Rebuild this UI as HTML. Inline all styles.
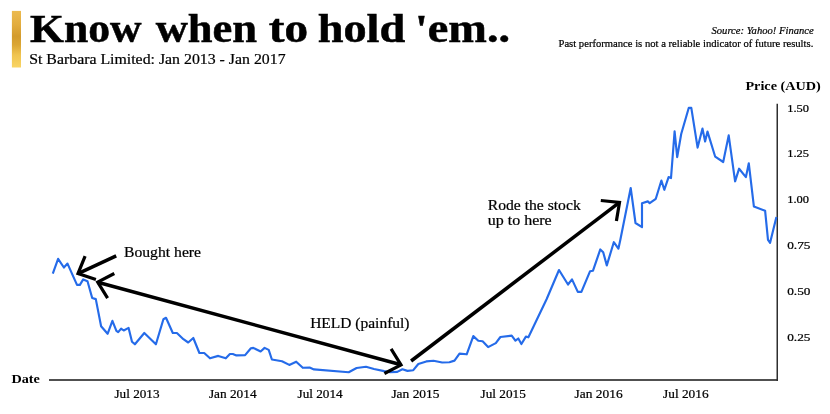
<!DOCTYPE html>
<html lang="en"><head><meta charset="utf-8"><title>Know when to hold 'em..</title>
<style>
html,body{margin:0;padding:0;background:#fff;}
svg{display:block;}
text{font-family:"Liberation Serif",serif;fill:#000;}
.r{stroke:#000;stroke-width:0.22px;}
.t{stroke:#000;stroke-width:0.5px;}
</style></head>
<body>
<svg width="830" height="414" viewBox="0 0 830 414">
<defs>
<linearGradient id="gold" x1="0" y1="0" x2="0" y2="1">
<stop offset="0" stop-color="#ecba4e"/>
<stop offset="0.25" stop-color="#e2ac3e"/>
<stop offset="0.45" stop-color="#d39b2d"/>
<stop offset="0.6" stop-color="#dba634"/>
<stop offset="0.78" stop-color="#f0c450"/>
<stop offset="1" stop-color="#f9d564"/>
</linearGradient>
</defs>
<rect x="0" y="0" width="830" height="414" fill="#fff"/>
<rect x="11.9" y="10.9" width="9.1" height="56.6" fill="url(#gold)"/>
<line x1="49" y1="379.9" x2="778" y2="379.9" stroke="#505050" stroke-width="2"/>
<line x1="777.25" y1="103.7" x2="777.25" y2="380.9" stroke="#2e2e2e" stroke-width="1.5"/>
<polyline fill="none" stroke="#256be9" stroke-width="2.15" stroke-linejoin="round" stroke-linecap="butt" points="52.8,273.6 58.1,258.8 63.9,267.5 67.5,263.6 77.0,284.9 79.9,284.9 83.2,279.4 87.5,281.3 92.2,298.0 95.8,299.1 101.1,326.2 107.6,333.8 112.4,320.8 116.4,330.9 118.2,332.2 121.1,328.6 123.7,330.5 128.6,327.9 132.0,341.7 134.9,344.3 144.3,333.0 155.9,344.3 163.4,319.2 166.0,317.8 172.8,333.0 176.9,333.0 183.4,339.2 188.2,342.5 193.3,338.0 199.4,353.0 204.2,353.0 210.0,358.3 218.3,355.9 225.8,358.3 229.9,354.0 232.8,354.0 236.4,355.4 245.1,355.1 250.9,348.2 253.3,347.9 260.6,351.5 264.6,347.9 268.7,349.9 271.9,359.5 282.0,361.2 289.3,364.9 296.2,361.7 302.8,367.8 309.6,367.5 314.0,369.4 348.7,372.2 356.6,368.0 366.0,366.8 374.0,369.0 384.1,371.1 390.1,372.2 397.3,371.9 402.4,369.3 407.5,370.9 413.3,370.2 418.3,364.0 426.3,361.4 433.5,360.8 442.2,362.5 449.4,362.2 454.5,360.6 459.5,353.6 466.7,354.3 473.3,336.1 478.3,340.8 482.6,341.3 488.1,347.1 495.8,343.1 500.4,337.0 511.7,335.6 515.4,340.7 518.3,338.5 521.4,344.0 525.9,336.6 528.4,337.3 546.7,299.0 559.0,270.0 568.0,284.5 572.0,279.4 577.8,291.9 581.4,291.9 590.1,271.2 593.0,270.7 600.3,249.4 603.2,252.3 606.8,265.4 613.8,242.2 618.4,248.7 620.3,240.0 630.7,188.0 635.5,223.0 642.0,227.1 642.0,203.2 647.8,201.4 649.7,203.2 655.8,198.8 661.4,180.5 664.3,189.8 668.6,177.1 671.0,178.1 674.6,131.4 677.2,157.1 681.2,134.0 688.8,107.8 691.3,107.8 697.6,147.6 702.5,128.6 705.1,141.5 707.5,131.6 715.2,156.7 723.2,162.0 728.7,135.4 735.1,181.3 739.1,168.7 745.9,177.1 748.8,163.3 753.9,206.6 765.1,210.7 768.0,239.9 770.1,242.8 776.4,217.0"/>
<g fill="none" stroke="#000" stroke-width="3.5" stroke-linejoin="miter" stroke-linecap="butt">
<line x1="116.2" y1="255.8" x2="78.0" y2="273.6"/><polyline stroke-width="3.2" points="95.9,279.4 78.0,273.6 85.1,256.2"/>
<line x1="97.7" y1="282.2" x2="401.0" y2="364.8"/><polyline stroke-width="3.2" points="107.6,298.2 97.7,282.2 114.3,273.5"/><polyline stroke-width="3.2" points="391.1,348.8 401.0,364.8 384.4,373.5"/>
<line x1="411.1" y1="361.0" x2="619.5" y2="202.4"/><polyline stroke-width="3.2" points="600.8,200.5 619.5,202.4 616.4,220.9"/>
</g>
<text y="41.5" font-size="39.8" font-weight="bold" class="t"><tspan x="30.1" textLength="111.5" lengthAdjust="spacingAndGlyphs">Know</tspan> <tspan x="155.7" textLength="101.4" lengthAdjust="spacingAndGlyphs">when</tspan> <tspan x="268.7" textLength="39.3" lengthAdjust="spacingAndGlyphs">to</tspan> <tspan x="317.7" textLength="87.5" lengthAdjust="spacingAndGlyphs">hold</tspan> <tspan x="414.9" textLength="95.3" lengthAdjust="spacingAndGlyphs">'em..</tspan></text>
<text x="29.2" y="64.4" font-size="15" textLength="256.4" lengthAdjust="spacingAndGlyphs" class="r">St Barbara Limited: Jan 2013 - Jan 2017</text>
<text x="711.5" y="33.6" font-size="11" textLength="102.2" lengthAdjust="spacingAndGlyphs" font-style="italic" class="r">Source: Yahoo! Finance</text>
<text x="558.5" y="46.6" font-size="11" textLength="254.8" lengthAdjust="spacingAndGlyphs" class="r">Past performance is not a reliable indicator of future results.</text>
<text x="745.4" y="90.2" font-size="13.4" textLength="75.4" lengthAdjust="spacingAndGlyphs" font-weight="bold">Price (AUD)</text>
<text x="11.5" y="382.6" font-size="13.4" textLength="28.4" lengthAdjust="spacingAndGlyphs" font-weight="bold">Date</text>
<text x="787.2" y="111.6" font-size="11" textLength="21.8" lengthAdjust="spacingAndGlyphs" class="r">1.50</text>
<text x="787.2" y="157.4" font-size="11" textLength="21.8" lengthAdjust="spacingAndGlyphs" class="r">1.25</text>
<text x="787.2" y="203.2" font-size="11" textLength="21.8" lengthAdjust="spacingAndGlyphs" class="r">1.00</text>
<text x="787.2" y="249.0" font-size="11" textLength="23.2" lengthAdjust="spacingAndGlyphs" class="r">0.75</text>
<text x="787.2" y="294.8" font-size="11" textLength="23.2" lengthAdjust="spacingAndGlyphs" class="r">0.50</text>
<text x="787.2" y="340.6" font-size="11" textLength="23.2" lengthAdjust="spacingAndGlyphs" class="r">0.25</text>
<text x="114.5" y="397.7" font-size="13" textLength="45.0" lengthAdjust="spacingAndGlyphs" class="r">Jul 2013</text>
<text x="208.9" y="397.7" font-size="13" textLength="47.7" lengthAdjust="spacingAndGlyphs" class="r">Jan 2014</text>
<text x="297.5" y="397.7" font-size="13" textLength="45.1" lengthAdjust="spacingAndGlyphs" class="r">Jul 2014</text>
<text x="391.4" y="397.7" font-size="13" textLength="48.1" lengthAdjust="spacingAndGlyphs" class="r">Jan 2015</text>
<text x="480.6" y="397.7" font-size="13" textLength="45.2" lengthAdjust="spacingAndGlyphs" class="r">Jul 2015</text>
<text x="574.6" y="397.7" font-size="13" textLength="48.0" lengthAdjust="spacingAndGlyphs" class="r">Jan 2016</text>
<text x="663.1" y="397.7" font-size="13" textLength="45.5" lengthAdjust="spacingAndGlyphs" class="r">Jul 2016</text>
<text x="124" y="256.9" font-size="15" textLength="77" lengthAdjust="spacingAndGlyphs" class="r">Bought here</text>
<text x="310.2" y="327.9" font-size="15" textLength="99.3" lengthAdjust="spacingAndGlyphs" class="r">HELD (painful)</text>
<text x="487.8" y="209.6" font-size="15" textLength="92.9" lengthAdjust="spacingAndGlyphs" class="r">Rode the stock</text>
<text x="487.8" y="224.9" font-size="15" textLength="63.9" lengthAdjust="spacingAndGlyphs" class="r">up to here</text>
</svg>
</body></html>
